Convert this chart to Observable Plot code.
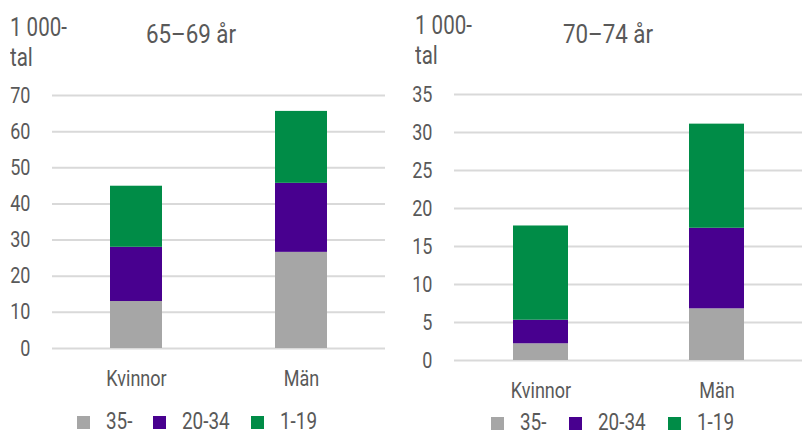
<!DOCTYPE html>
<html>
<head>
<meta charset="utf-8">
<script src="https://cdn.jsdelivr.net/npm/d3@7"></script>
<script src="https://cdn.jsdelivr.net/npm/@observablehq/plot@0.6"></script>
<style>
  body { margin: 0; background: #fff; }
  #root { position: relative; width: 802px; height: 436px; overflow: hidden;
    font-family: Roboto, 'DejaVu Sans Condensed', sans-serif; color: #595959; }
  .abs { position: absolute; white-space: nowrap; }
  .panel { position: absolute; top: 0; }
  .unit { font-size: 25px; line-height: 30px; transform: scaleX(0.82); transform-origin: left center; }
  .title { font-size: 26px; line-height: 30px; transform: translateX(-50%) scaleX(0.86); }
  .leg { font-size: 23px; line-height: 24px; display: flex; align-items: center; }
  .sw { width: 13px; height: 13px; display: inline-block; }
  .lt { display: inline-block; transform: scaleX(0.82); transform-origin: left center; }
</style>
</head>
<body>
<div id="root"></div>
<script>
// ---- data ----
const categories = ["Kvinnor", "Män"];
const groups = ["35-", "20-34", "1-19"];
const colors = ["#a6a6a6", "#48008f", "#008c47"];

// 65–69 år (1 000-tal)
const v6569_35 = [13.0, 26.6];
const v6569_2034 = [15.0, 19.1];
const v6569_119 = [16.9, 19.9];
const ticks6569 = [0, 10, 20, 30, 40, 50, 60, 70];

// 70–74 år (1 000-tal)
const v7074_35 = [2.2, 6.8];
const v7074_2034 = [3.1, 10.6];
const v7074_119 = [12.4, 13.7];
const ticks7074 = [0, 5, 10, 15, 20, 25, 30, 35];

const titles = ["65–69 år", "70–74 år"];
const unitLabel = ["1 000-", "tal"];

function rows(series) {
  const out = [];
  groups.forEach((g, gi) => categories.forEach((c, ci) => out.push({cat: c, group: g, value: series[gi][ci]})));
  return out;
}

const font = "Roboto, 'DejaVu Sans Condensed', sans-serif";

function condense(svg, k) {
  svg.querySelectorAll("text").forEach(t => {
    const xa = t.getAttribute("x"), ya = t.getAttribute("y");
    let tx = 0, ty = 0;
    if (xa != null && xa !== "" && isFinite(+xa)) { tx = +xa; t.removeAttribute("x"); }
    if (ya != null && ya !== "" && isFinite(+ya)) { ty = +ya; t.removeAttribute("y"); }
    const tr = t.getAttribute("transform") || "";
    t.setAttribute("transform", `${tr} translate(${tx},${ty}) scale(${k},1)`);
  });
  return svg;
}

function panel(data, ticks, o) {
  const svg = Plot.plot({
    width: o.width, height: 436,
    marginTop: o.top, marginBottom: 436 - o.bottom, marginLeft: o.left, marginRight: o.right,
    x: {domain: categories, paddingInner: o.pi, paddingOuter: o.po, label: null},
    y: {domain: [0, ticks[ticks.length - 1]], label: null},
    color: {domain: groups, range: colors},
    style: {fontFamily: font, color: "#595959", background: "transparent", overflow: "visible"},
    marks: [
      Plot.gridY(ticks, {stroke: "#d9d9d9", strokeOpacity: 1, strokeWidth: 2}),
      Plot.barY(data, {x: "cat", y: "value", fill: "group"}),
      Plot.axisY(ticks, {tickSize: 0, tickPadding: 22, fontSize: 22, label: null}),
      Plot.axisX({tickSize: 0, tickPadding: 22, fontSize: 22, label: null})
    ]
  });
  return condense(svg, 0.82);
}

const root = document.getElementById("root");

const cfgs = [
  {x0: 0, width: 400, top: 95, bottom: 348, left: 52, right: 15, pi: 0.687, po: 0.347,
   series: [v6569_35, v6569_2034, v6569_119], ticks: ticks6569,
   titleX: 191, unitX: 10, unitTop: 13, legTop: 410, legX: [77, 153, 251]},
  {x0: 400, width: 402, top: 94, bottom: 360, left: 54, right: 0, pi: 0.689, po: 0.33,
   series: [v7074_35, v7074_2034, v7074_119], ticks: ticks7074,
   titleX: 608, unitX: 415, unitTop: 11, legTop: 411, legX: [491, 569, 668]}
];

cfgs.forEach((c, i) => {
  const wrap = document.createElement("div");
  wrap.className = "panel";
  wrap.style.left = c.x0 + "px";
  wrap.appendChild(panel(rows(c.series), c.ticks, c));
  root.appendChild(wrap);

  const t = document.createElement("div");
  t.className = "abs title";
  t.style.left = c.titleX + "px";
  t.style.top = "19px";
  t.textContent = titles[i];
  root.appendChild(t);

  unitLabel.forEach((u, k) => {
    const d = document.createElement("div");
    d.className = "abs unit";
    d.style.left = c.unitX + "px";
    d.style.top = (c.unitTop + k * 30) + "px";
    d.textContent = u;
    root.appendChild(d);
  });

  groups.forEach((g, k) => {
    const l = document.createElement("div");
    l.className = "abs leg";
    l.style.left = c.legX[k] + "px";
    l.style.top = c.legTop + "px";
    const sw = document.createElement("span");
    sw.className = "sw";
    sw.style.background = colors[k];
    const tx = document.createElement("span");
    tx.className = "lt";
    tx.style.marginLeft = "16px";
    tx.textContent = g;
    l.appendChild(sw); l.appendChild(tx);
    root.appendChild(l);
  });
});
</script>
</body>
</html>
